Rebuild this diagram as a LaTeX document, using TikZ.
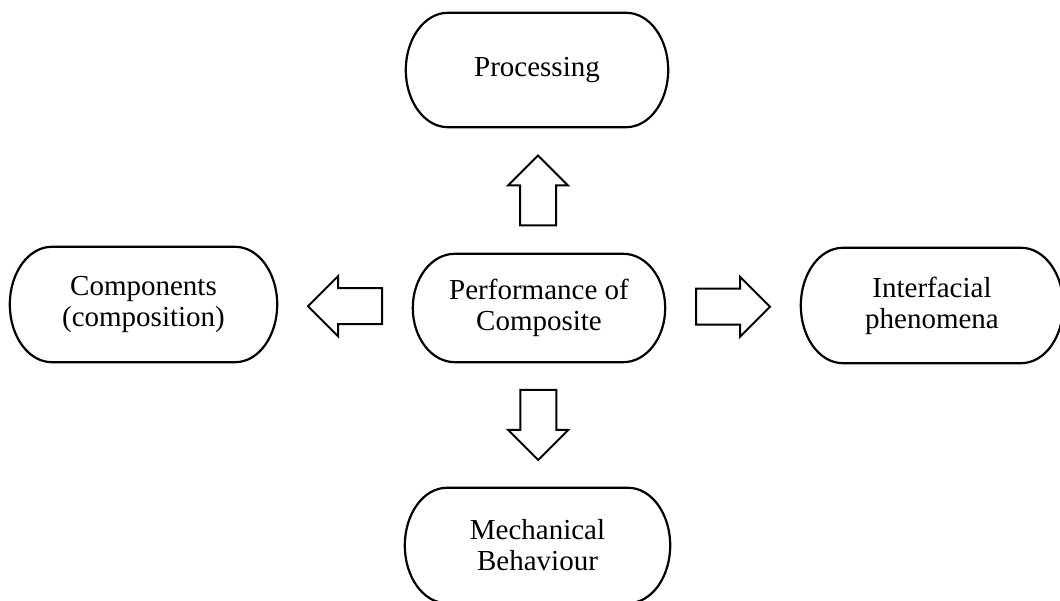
\documentclass[tikz,border=0pt]{standalone}
\usepackage{fontspec}
\setmainfont{Liberation Serif}
\usetikzlibrary{calc}

\tikzset{
  capsule/.style={inner sep=0pt, align=center, font=\fontsize{29}{31}\selectfont,
    minimum width=265pt, minimum height=115pt},
  outline/.style={draw, line width=2.2pt},
  arrowline/.style={draw, line width=2pt, fill=white, line join=miter},
  alen/.store in=\alen, alen=70,
  pics/blockarrow/.style={code={
    \path[arrowline] (-\alen/2,-18) -- (\alen/2-30,-18) -- (\alen/2-30,-30)
      -- (\alen/2,0) -- (\alen/2-30,30) -- (\alen/2-30,18) -- (-\alen/2,18) -- cycle;
  }}
}

\begin{document}
\begin{tikzpicture}[x=1pt, y=1pt]
  \useasboundingbox (0,0) rectangle (1060,601);
  \clip (0,0) rectangle (1060,601);

  % central topic and the four aspects around it
  \node[capsule, minimum width=252pt, minimum height=108pt] (perf) at (539,293) {Performance of\\Composite};
  \node[capsule, minimum width=262pt, minimum height=114pt] (proc) at (537,531) {Processing};
  \node[capsule, minimum width=267pt] (comp) at (143.5,296.5) {Components\\(composition)};
  \node[capsule, minimum width=262pt] (inter) at (932,295.5) {Interfacial\\phenomena};
  \node[capsule] (mech) at (537.5,55.5) {Mechanical\\Behaviour};

  % outlines with half-elliptic ends
  \foreach \nd in {perf,proc,comp,inter,mech} {
    \draw[outline] let \p1=(\nd.north west), \p2=(\nd.south east),
        \n1={(\y1-\y2)/2} in
      (\x1+42pt,\y1) -- (\x2-42pt,\y1)
      arc[start angle=90, end angle=-90, x radius=42pt, y radius=\n1]
      -- (\x1+42pt,\y2)
      arc[start angle=270, end angle=90, x radius=42pt, y radius=\n1]
      -- cycle;
  }

  % hollow block arrows pointing outwards
  \pic[rotate=90, alen=70] at ($(perf.north)!0.5!(proc.south)$) {blockarrow};
  \pic[rotate=-90, alen=70] at ($(perf.south)!0.5!(mech.north)$) {blockarrow};
  \pic[rotate=180, alen=74] at ($(perf.west)!0.5!(comp.east)$) {blockarrow};
  \pic[alen=74] at ($(perf.east)!0.5!(inter.west)$) {blockarrow};
\end{tikzpicture}
\end{document}
